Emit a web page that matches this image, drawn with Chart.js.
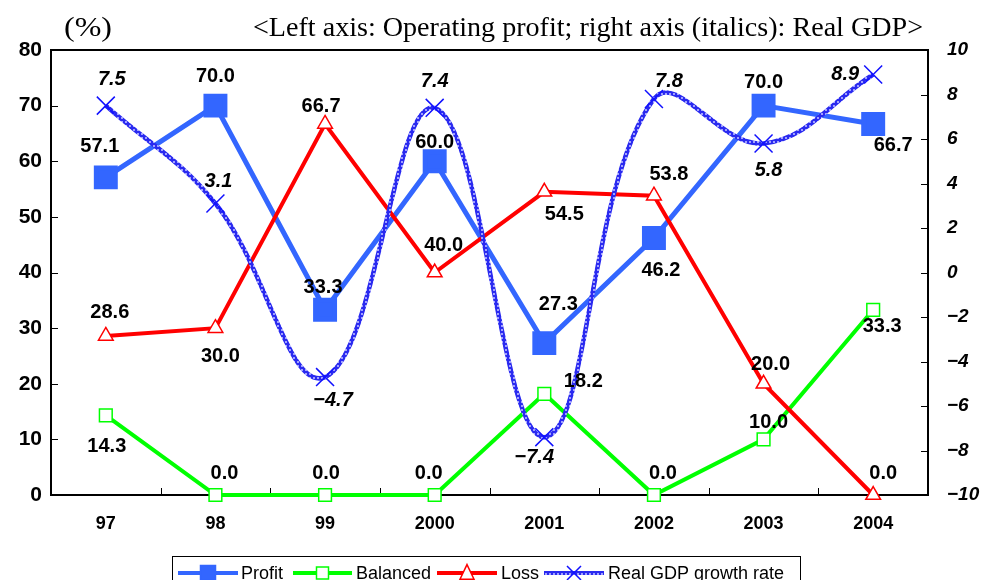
<!DOCTYPE html>
<html>
<head>
<meta charset="utf-8">
<script src="https://cdn.jsdelivr.net/npm/chart.js@4.4.0/dist/chart.umd.min.js"></script>
<style>
html, body { margin: 0; padding: 0; background: #fff; }
#wrap { width: 981px; height: 580px; }
</style>
</head>
<body>
<div id="wrap"><canvas id="chart" width="981" height="580"></canvas></div>
<script>
// data
var years = ["97", "98", "99", "2000", "2001", "2002", "2003", "2004"];
var profit = [57.1, 70.0, 33.3, 60.0, 27.3, 46.2, 70.0, 66.7];
var balanced = [14.3, 0.0, 0.0, 0.0, 18.2, 0.0, 10.0, 33.3];
var loss = [28.6, 30.0, 66.7, 40.0, 54.5, 53.8, 20.0, 0.0];
var gdp = [7.5, 3.1, -4.7, 7.4, -7.4, 7.8, 5.8, 8.9];
var leftAxis = { min: 0, max: 80, step: 10 };
var rightAxis = { min: -10, max: 10, step: 2 };
var seriesNames = ["Profit", "Balanced", "Loss", "Real GDP growth rate"];

// where each value label sits relative to its point (dx, dy)
var labelOffsets = [
	[[-6,-31],[0,-29],[-2,-22],[0,-19],[14,-39],[7,32],[0,-23],[20,22]],
	[[1,31],[9,-22],[1,-22],[-6,-22],[39,-12],[9,-22],[5,-17],[9,17]],
	[[4,-23],[5,28],[-4,-17],[9,-27],[20,23],[15,-21],[7,-19],[10,-22]],
	[[6,-26],[3,-22],[8,23],[0,-26],[-10,20],[15,-17],[5,27],[-28,0]]
];

var BLUE = "#3366ff", GREEN = "#00ff00", RED = "#ff0000";
var numFont = '"Liberation Sans", Arial, sans-serif';

function gdpPattern(){
	var c = document.createElement("canvas");
	c.width = 4; c.height = 4;
	var g = c.getContext("2d");
	g.fillStyle = "#2a2af0"; g.fillRect(0, 0, 4, 4);
	g.fillStyle = "#a0a0ff"; g.fillRect(1, 1, 2, 2);
	return g.createPattern(c, "repeat");
}

function minus(v, digits){
	var s = Math.abs(v).toFixed(digits);
	return (v < 0 ? "\u2212" : "") + s;
}

function marker(ctx, kind, x, y, s, fill, stroke){
	ctx.save();
	ctx.lineWidth = 1.5;
	ctx.fillStyle = fill; ctx.strokeStyle = stroke;
	if (kind === "rect") {
		ctx.fillRect(x - s/2, y - s/2, s, s);
		ctx.strokeRect(x - s/2, y - s/2, s, s);
	} else if (kind === "tri") {
		ctx.beginPath();
		ctx.moveTo(x, y - s*0.6); ctx.lineTo(x + s/2, y + s*0.45); ctx.lineTo(x - s/2, y + s*0.45);
		ctx.closePath(); ctx.fill(); ctx.stroke();
	} else if (kind === "cross") {
		ctx.beginPath();
		ctx.moveTo(x - s/2, y - s/2); ctx.lineTo(x + s/2, y + s/2);
		ctx.moveTo(x + s/2, y - s/2); ctx.lineTo(x - s/2, y + s/2);
		ctx.stroke();
	}
	ctx.restore();
}

var framePlugin = {
	id: "frame",
	beforeDatasetsDraw: function(chart){
		var ctx = chart.ctx, a = chart.chartArea;
		var sx = chart.scales.x, sy = chart.scales.y, sy1 = chart.scales.y1;
		ctx.save();
		ctx.strokeStyle = "#000";
		ctx.lineWidth = 2;
		ctx.strokeRect(a.left, a.top, a.right - a.left, a.bottom - a.top);
		ctx.lineWidth = 1;
		ctx.beginPath();
		for (var v = leftAxis.min + leftAxis.step; v < leftAxis.max; v += leftAxis.step) {
			var py = Math.round(sy.getPixelForValue(v)) + 0.5;
			ctx.moveTo(a.left, py); ctx.lineTo(a.left + 7, py);
		}
		for (var w = rightAxis.min + rightAxis.step; w < rightAxis.max; w += rightAxis.step) {
			var qy = Math.round(sy1.getPixelForValue(w)) + 0.5;
			ctx.moveTo(a.right - 7, qy); ctx.lineTo(a.right, qy);
		}
		var half = (sx.getPixelForValue(1) - sx.getPixelForValue(0)) / 2;
		for (var i = 0; i < years.length - 1; i++) {
			var px = Math.round(sx.getPixelForValue(i) + half) + 0.5;
			ctx.moveTo(px, a.bottom); ctx.lineTo(px, a.bottom - 7);
		}
		ctx.stroke();
		ctx.restore();
	},
	afterDatasetsDraw: function(chart){
		var ctx = chart.ctx;
		ctx.save();
		ctx.fillStyle = "#000";
		ctx.textAlign = "center";
		ctx.textBaseline = "middle";
		chart.data.datasets.forEach(function(ds, di){
			var meta = chart.getDatasetMeta(di);
			ctx.font = (di === 3 ? "italic bold 20px " : "bold 20px ") + numFont;
			meta.data.forEach(function(pt, i){
				var off = labelOffsets[di][i];
				ctx.fillText(minus(ds.data[i], 1), pt.x + off[0], pt.y + off[1]);
			});
		});
		ctx.restore();
	},
	afterDraw: function(chart){
		var ctx = chart.ctx;
		ctx.save();
		// title line
		ctx.fillStyle = "#000";
		ctx.textBaseline = "alphabetic";
		ctx.font = '28px "Liberation Serif", "Times New Roman", serif';
		ctx.save();
		ctx.translate(64, 36);
		var w1 = ctx.measureText("(%)").width;
		ctx.scale(48 / w1, 1);
		ctx.fillText("(%)", 0, 0);
		ctx.restore();
		var t = "<Left axis: Operating profit; right axis (italics): Real GDP>";
		var w2 = ctx.measureText(t).width;
		ctx.save();
		ctx.translate(253, 36);
		ctx.scale(670 / w2, 1);
		ctx.fillText(t, 0, 0);
		ctx.restore();

		// legend
		ctx.fillStyle = "#fff";
		ctx.fillRect(172, 556, 628, 30);
		ctx.strokeStyle = "#000";
		ctx.lineWidth = 1;
		ctx.strokeRect(172.5, 556.5, 628, 30);
		var items = [
			{ x0: 178, x1: 238, tx: 241, color: BLUE, kind: "rect", fill: BLUE, stroke: BLUE, s: 15, lw: 4 },
			{ x0: 293, x1: 352, tx: 356, color: GREEN, kind: "rect", fill: "#fff", stroke: GREEN, s: 12, lw: 4 },
			{ x0: 437, x1: 497, tx: 501, color: RED, kind: "tri", fill: "#fff", stroke: RED, s: 14, lw: 4 },
			{ x0: 544, x1: 604, tx: 608, color: chart.data.datasets[3].borderColor, kind: "cross", fill: "#fff", stroke: "#1010ff", s: 14, lw: 4 }
		];
		var ly = 573;
		ctx.font = "18px " + numFont;
		ctx.textBaseline = "middle";
		items.forEach(function(it, i){
			ctx.strokeStyle = it.color;
			ctx.lineWidth = it.lw;
			ctx.beginPath(); ctx.moveTo(it.x0, ly); ctx.lineTo(it.x1, ly); ctx.stroke();
			marker(ctx, it.kind, (it.x0 + it.x1) / 2, ly, it.s, it.fill, it.stroke);
			ctx.fillStyle = "#000";
			ctx.fillText(seriesNames[i], it.tx, ly + 1);
		});
		ctx.restore();
	}
};

var chart = new Chart(document.getElementById("chart").getContext("2d"), {
	type: "line",
	data: {
		labels: years,
		datasets: [
			{
				label: seriesNames[0], data: profit, yAxisID: "y", order: 3,
				borderColor: BLUE, backgroundColor: BLUE, borderWidth: 5,
				pointStyle: "rect", pointRadius: 13.4, pointBackgroundColor: BLUE, pointBorderColor: BLUE,
				tension: 0, clip: false
			},
			{
				label: seriesNames[1], data: balanced, yAxisID: "y", order: 2,
				borderColor: GREEN, backgroundColor: "#fff", borderWidth: 4,
				pointStyle: "rect", pointRadius: 9, pointBorderWidth: 1.5, pointBackgroundColor: "#fff", pointBorderColor: GREEN,
				tension: 0, clip: false
			},
			{
				label: seriesNames[2], data: loss, yAxisID: "y", order: 1,
				borderColor: RED, backgroundColor: "#fff", borderWidth: 4,
				pointStyle: "triangle", pointRadius: 8.5, pointBorderWidth: 1.5, pointBackgroundColor: "#fff", pointBorderColor: RED,
				tension: 0, clip: false
			},
			{
				label: seriesNames[3], data: gdp, yAxisID: "y1", order: 0,
				borderColor: gdpPattern(), backgroundColor: "transparent", borderWidth: 4.5,
				pointStyle: "crossRot", pointRadius: 12.7, pointBorderWidth: 1.5, pointBorderColor: "#1010ff",
				tension: 0.4, clip: false
			}
		]
	},
	options: {
		responsive: false,
		animation: false,
		devicePixelRatio: 1,
		layout: { padding: { top: 50, bottom: 40, left: 0, right: 0 } },
		plugins: {
			legend: { display: false },
			tooltip: { enabled: false }
		},
		scales: {
			x: {
				offset: true,
				grid: { display: false, drawTicks: false },
				border: { display: false },
				ticks: { color: "#000", padding: 18, font: { family: numFont, size: 18, weight: "bold" } },
				afterFit: function(s){ s.height = 45; }
			},
			y: {
				position: "left",
				min: leftAxis.min, max: leftAxis.max,
				grid: { display: false, drawTicks: false },
				border: { display: false },
				ticks: { stepSize: leftAxis.step, color: "#000", padding: 9, font: { family: numFont, size: 21, weight: "bold" } },
				afterFit: function(s){ s.width = 51; }
			},
			y1: {
				position: "right",
				min: rightAxis.min, max: rightAxis.max,
				grid: { display: false, drawTicks: false },
				border: { display: false },
				ticks: {
					stepSize: rightAxis.step, color: "#000", padding: 19,
					font: { family: numFont, size: 19, weight: "bold", style: "italic" },
					callback: function(v){ return minus(v, 0); }
				},
				afterFit: function(s){ s.width = 53; }
			}
		}
	},
	plugins: [framePlugin]
});
</script>
</body>
</html>
